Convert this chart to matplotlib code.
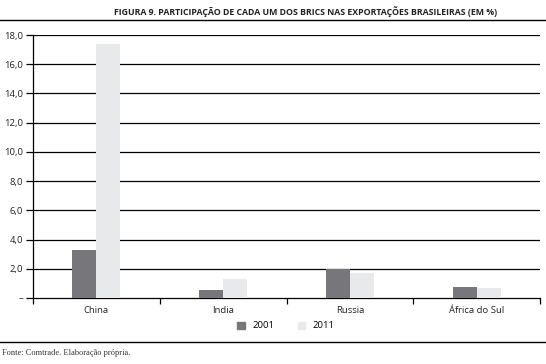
import numpy as np
import matplotlib.pyplot as plt
from matplotlib.lines import Line2D

# Data (% of Brazilian exports)
categories = ["China", "India", "Russia", "África do Sul"]
values_2001 = [3.3, 0.57, 1.97, 0.77]
values_2011 = [17.4, 1.32, 1.73, 0.68]
years = ["2001", "2011"]
y_ticks = [0, 2, 4, 6, 8, 10, 12, 14, 16, 18]
y_labels = ["–", "2,0", "4,0", "6,0", "8,0", "10,0", "12,0", "14,0", "16,0", "18,0"]

c2001 = "#77767a"
c2011 = "#e8e9ea"

plt.rcParams["font.family"] = ["Open Sans", "DejaVu Sans"]

fig = plt.figure(figsize=(5.46, 3.64), dpi=100)
ax = fig.add_axes([33 / 546, 1 - 298 / 364, 507 / 546, 263 / 364])

x = np.arange(len(categories))
w = 0.19
ax.bar(x - w / 2, values_2001, w, color=c2001, zorder=3)
ax.bar(x + w / 2, values_2011, w, color=c2011, zorder=3)

ax.set_xlim(-0.5, len(categories) - 0.5)
ax.set_ylim(0, 18)
ax.set_yticks(y_ticks)
ax.set_yticklabels(y_labels, fontsize=6.8, color="#222222")
for yv in y_ticks[1:]:
    ax.axhline(yv, color="black", lw=0.9, zorder=1)

ax.set_xticks(x)
ax.set_xticklabels(categories, fontsize=6.8, color="#222222")
ax.set_xticks(np.arange(-0.5, len(categories)), minor=True)
ax.tick_params(axis="x", which="major", length=0, pad=6)
ax.tick_params(axis="x", which="minor", length=4, width=0.9, direction="out")
ax.tick_params(axis="y", length=5, width=0.9, pad=2)

for s in ["top", "right"]:
    ax.spines[s].set_visible(False)
ax.spines["left"].set_linewidth(0.9)
ax.spines["bottom"].set_linewidth(0.9)

fig.text(306 / 546, 1 - 12 / 364,
         "FIGURA 9. PARTICIPAÇÃO DE CADA UM DOS BRICS NAS EXPORTAÇÕES BRASILEIRAS (EM %)",
         ha="center", va="center", fontsize=6.3, fontweight="bold", color="#222222")
fig.add_artist(Line2D([0, 1], [1 - 20 / 364, 1 - 20 / 364], color="black", lw=1.0))
fig.add_artist(Line2D([0, 1], [1 - 342 / 364, 1 - 342 / 364], color="black", lw=1.0))
fig.text(2 / 546, 1 - 353 / 364, "Fonte: Comtrade. Elaboração própria.",
         ha="left", va="center", fontsize=6, family="Liberation Serif", color="#333333")

handles = [plt.Rectangle((0, 0), 1, 1, color=c2001), plt.Rectangle((0, 0), 1, 1, color=c2011)]
fig.legend(handles, years, loc="center", bbox_to_anchor=(286 / 546, 1 - 326 / 364), ncol=2,
           frameon=False, fontsize=6.8, handlelength=0.8, handleheight=0.8,
           columnspacing=2.5, handletextpad=0.8)

fig.savefig("out.png", dpi=100)
